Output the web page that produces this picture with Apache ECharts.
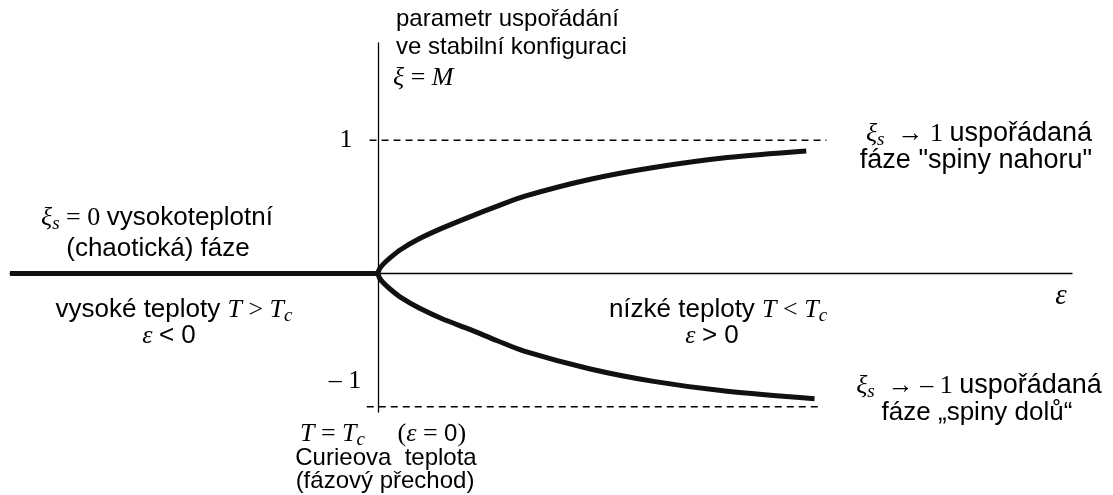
<!DOCTYPE html>
<html><head><meta charset="utf-8">
<script src="https://cdn.jsdelivr.net/npm/echarts@6/dist/echarts.min.js"></script>
<style>html,body{margin:0;padding:0;background:#fff}#c{width:1113px;height:495px}</style>
</head><body><div id="c"></div>
<script>
// high-temperature (chaotic) phase: xi_s = 0 for eps < 0
const epsHigh = [-4, 0];
const xiHigh = [0, 0];
// ordered phase "spins up"
const epsUp = [0, 0.02, 0.06, 0.13, 0.25, 0.45, 0.7, 1.0, 1.3, 1.6, 2.3, 3.0, 3.8, 4.66];
const xiUp  = [0, 0.035, 0.07, 0.115, 0.18, 0.26, 0.34, 0.425, 0.505, 0.58, 0.705, 0.795, 0.87, 0.92];
// ordered phase "spins down"
const epsDown = [0, 0.02, 0.06, 0.13, 0.25, 0.45, 0.7, 1.0, 1.3, 1.6, 2.3, 3.0, 3.8, 4.75];
const xiDown  = [0, -0.035, -0.07, -0.115, -0.18, -0.26, -0.34, -0.42, -0.505, -0.585, -0.715, -0.81, -0.885, -0.94];
// saturation levels (dashed)
const levels = [1, -1];
const levelFrom = [-0.09, -0.12];
const levelTo = [4.88, 4.84];

const zip = (a, b) => a.map((v, i) => [v, b[i]]);
const SANS = '"Liberation Sans", Arial, Helvetica, sans-serif';
const SERIF = '"Liberation Serif", "Times New Roman", Times, serif';
const R = {
  t:  {fontFamily: SANS, fontSize: 24, fill: '#000', lineHeight: 30},
  tl: {fontFamily: SANS, fontSize: 26, fill: '#000', lineHeight: 30},
  tx: {fontFamily: SANS, fontSize: 27, fill: '#000', lineHeight: 30},
  m:  {fontFamily: SERIF, fontStyle: 'italic', fontSize: 26, fill: '#000', lineHeight: 30},
  mx: {fontFamily: SERIF, fontStyle: 'italic', fontSize: 29, fill: '#000', lineHeight: 30},
  u:  {fontFamily: SERIF, fontSize: 26, fill: '#000', lineHeight: 30},
  s:  {fontFamily: SERIF, fontStyle: 'italic', fontSize: 19, fill: '#000', lineHeight: 14, verticalAlign: 'bottom'}
};
function T(x, y, text, align) {
  return {type: 'text', silent: true, style: {
    x: x, y: y, text: text, rich: R,
    align: align || 'center', textAlign: align || 'center',
    verticalAlign: 'middle', textVerticalAlign: 'middle', fill: '#000'
  }};
}

const curveStyle = {color: '#111', width: 5, cap: 'butt'};
const series = [
  {type: 'line', data: zip(epsHigh, xiHigh), symbol: 'none', lineStyle: curveStyle, z: 5},
  {type: 'line', data: zip(epsUp, xiUp), symbol: 'none', smooth: 0.3, lineStyle: curveStyle, z: 5},
  {type: 'line', data: zip(epsDown, xiDown), symbol: 'none', smooth: 0.3, lineStyle: curveStyle, z: 5}
];
levels.forEach((lv, i) => {
  series.push({type: 'line', data: [[levelFrom[i], lv], [levelTo[i], lv]], symbol: 'none',
    lineStyle: {color: '#000', width: 1.5, type: [7, 5]}, z: 3});
});

const chart = echarts.init(document.getElementById('c'), null, {renderer: 'canvas'});
chart.setOption({
  animation: false,
  backgroundColor: '#fff',
  grid: {left: 10, top: 43, width: 1062, height: 369, containLabel: false},
  xAxis: {type: 'value', min: -4, max: 7.55, axisLine: {onZero: true, lineStyle: {color: '#000', width: 1.3}},
    axisTick: {show: false}, axisLabel: {show: false}, splitLine: {show: false}},
  yAxis: {type: 'value', min: -1.04, max: 1.73, axisLine: {show: true, onZero: true, lineStyle: {color: '#000', width: 1.3}},
    axisTick: {show: false}, axisLabel: {show: false}, splitLine: {show: false}},
  series: series,
  graphic: [
    T(396, 19, '{t|parametr uspořádání}', 'left'),
    T(396, 47, '{t|ve stabilní konfiguraci}', 'left'),
    T(393, 78, '{m|ξ }{u|= }{m|M}', 'left'),
    T(346, 140, '{u|1}'),
    T(345, 381, '{u|– 1}'),
    T(979, 134, '{m|ξ}{s|s}{u|  → 1 }{tx|uspořádaná}'),
    T(976, 161, '{tx|fáze "spiny nahoru"}'),
    T(979, 386, '{m|ξ}{s|s}{u|  → – 1 }{tx|uspořádaná}'),
    T(977, 413, '{tl|fáze „spiny dolů“}'),
    T(157, 218, '{m|ξ}{s|s}{u| = 0 }{tl|vysokoteplotní}'),
    T(158, 249, '{tl|(chaotická) fáze}'),
    T(174, 310, '{tl|vysoké teploty }{m|T }{u|> }{m|T}{s|c}'),
    T(169, 336, '{m|ε }{tl|< 0}'),
    T(718, 310, '{tl|nízké teploty }{m|T }{u|< }{m|T}{s|c}'),
    T(712, 336, '{m|ε }{tl|> 0}'),
    T(1061, 296, '{mx|ε}'),
    T(383, 434, '{m|T }{u|= }{m|T}{s|c}{u|     (}{m|ε }{u|= }{t|0}{u|)}'),
    T(386, 458, '{t|Curieova  teplota}'),
    T(385, 481, '{t|(fázový přechod)}')
  ]
});
</script></body></html>
